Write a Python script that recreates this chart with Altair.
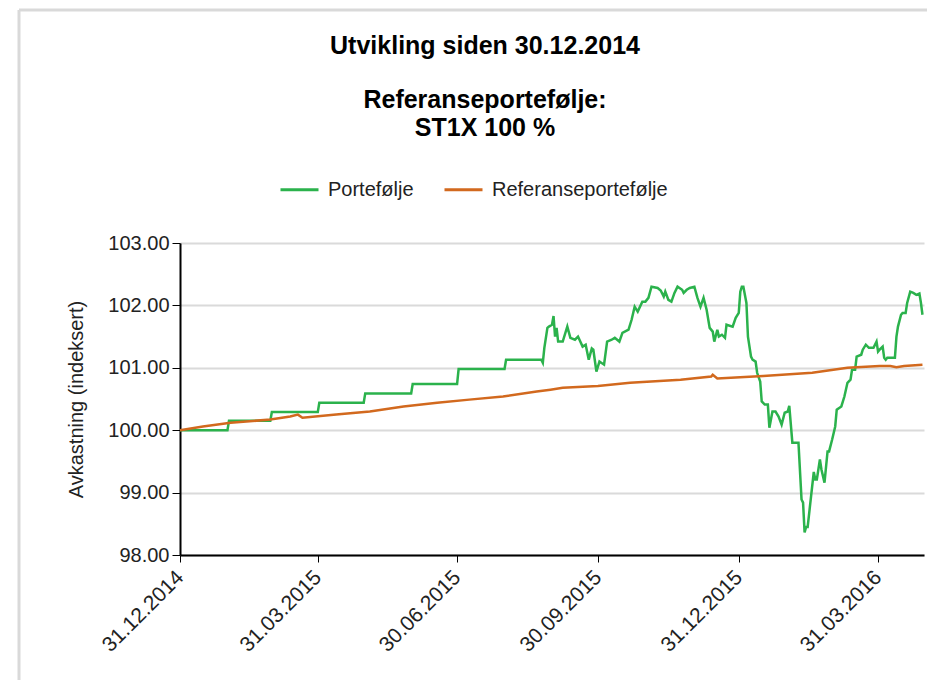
import altair as alt
import pandas as pd

# ---------------- data ----------------
base_date = "2014-12-31"
series_names = ["Portefølje", "Referanseportefølje"]
series_colors = ["#2bb24c", "#d2691e"]

# days after 31.12.2014 and index values (Portefølje)
green_days = [0, 31, 32, 59, 60, 90, 91, 120, 121, 151, 152, 181, 182, 212, 213, 236, 237, 238,
              240, 241, 243, 244, 245, 246, 247, 250, 253, 255, 258, 260, 263, 265, 267, 269,
              270, 272, 274, 277, 279, 282, 284, 287, 289, 293, 295, 297, 299, 302, 304, 306,
              308, 312, 314, 316, 317, 319, 321, 323, 325, 328, 329, 331, 333, 336, 338, 340,
              342, 344, 346, 348, 349, 351, 352, 354, 356, 357, 361, 363, 365, 366, 367, 368,
              370, 371, 373, 374, 376, 377, 379, 380, 382, 384, 385, 387, 389, 391, 393, 395,
              397, 398, 400, 402, 404, 406, 407, 408, 409, 410, 412, 414, 415, 416, 418, 419,
              421, 423, 424, 426, 428, 429, 432, 434, 436, 438, 439, 441, 442, 445, 446, 448,
              450, 453, 455, 456, 457, 459, 460, 461, 462, 467, 468, 469, 471, 472, 474, 475,
              477, 479, 481, 483, 484, 485]
green_vals = [100.00, 100.00, 100.15, 100.15, 100.29, 100.29, 100.44, 100.44, 100.59, 100.59,
              100.74, 100.74, 100.98, 100.98, 101.13, 101.13, 101.08, 101.32,
              101.64, 101.66, 101.69, 101.83, 101.50, 101.64, 101.42, 101.42, 101.66, 101.48,
              101.45, 101.50, 101.34, 101.37, 101.13, 101.31,
              101.29, 100.94, 101.10, 101.05, 101.42, 101.45, 101.48, 101.42, 101.56, 101.61,
              101.77, 101.98, 101.90, 102.06, 102.06, 102.12,
              102.30, 102.28, 102.24, 102.14, 102.22, 102.09, 102.06, 102.20, 102.30, 102.25,
              102.20, 102.25, 102.28, 102.30, 102.12, 101.98,
              102.12, 101.93, 101.64, 101.58, 101.42, 101.61, 101.50, 101.53, 101.48, 101.69,
              101.66, 101.80, 101.88, 102.22, 102.30, 102.30,
              102.04, 101.50, 101.18, 101.13, 101.10, 100.92, 100.78, 100.46, 100.41, 100.41,
              100.04, 100.30, 100.30, 100.22, 100.09, 100.28,
              100.30, 100.39, 99.80, 99.80, 99.80, 98.89, 98.84, 98.36, 98.45, 98.45, 98.89,
              99.33, 99.21, 99.21, 99.53, 99.37,
              99.16, 99.66, 99.66, 99.85, 100.06, 100.33, 100.38, 100.54, 100.76, 100.81,
              100.97, 100.97, 101.18, 101.21, 101.29, 101.37,
              101.32, 101.32, 101.42, 101.26, 101.29, 101.34, 101.16, 101.13, 101.16, 101.16,
              101.50, 101.66, 101.85, 101.88, 101.88, 102.04,
              102.22, 102.20, 102.17, 102.19, 102.04, 101.85]

# days after 31.12.2014 and index values (Referanseportefølje)
ref_days = [0, 15, 33, 59, 72, 77, 80, 102, 124, 146, 168, 189, 211, 233, 242, 250, 273, 294,
            327, 347, 348, 351, 381, 413, 436, 457, 464, 468, 473, 485]
ref_vals = [100.00, 100.06, 100.12, 100.17, 100.22, 100.25, 100.20, 100.25, 100.30, 100.38,
            100.44, 100.49, 100.54, 100.62, 100.65, 100.68, 100.71, 100.76,
            100.81, 100.86, 100.89, 100.83, 100.87, 100.92, 101.00, 101.03, 101.03, 101.01,
            101.03, 101.05]

x_tick_dates = ["2014-12-31", "2015-03-31", "2015-06-30", "2015-09-30", "2015-12-31", "2016-03-31"]
x_domain_dates = ["2014-12-31", "2016-04-30"]
y_ticks = [98, 99, 100, 101, 102, 103]
y_domain = [98, 103]

title_line = "Utvikling siden 30.12.2014"
subtitle_lines = ["Referanseportefølje:", "ST1X 100 %"]
y_title = "Avkastning (indeksert)"

# ---------------- build table ----------------
def build(days, vals, name):
    d = pd.Timestamp(base_date) + pd.to_timedelta(days, unit="D")
    return pd.DataFrame({
        "date": [x.strftime("%Y-%m-%d") for x in d],
        "value": vals,
        "serie": name,
        "i": list(range(len(days))),
    })

df = pd.concat([build(green_days, green_vals, series_names[0]),
                build(ref_days, ref_vals, series_names[1])], ignore_index=True)


def ms(s):
    return int(pd.Timestamp(s, tz="UTC").timestamp() * 1000)


FONT = "Liberation Sans"
TXT = "#222222"

lines = alt.Chart(df).mark_line(strokeWidth=2.5).encode(
    x=alt.X("date:T",
            scale=alt.Scale(type="utc", domain=[ms(s) for s in x_domain_dates], nice=False),
            axis=alt.Axis(values=[ms(s) for s in x_tick_dates],
                          labelExpr="utcFormat(datum.value, '%d.%m.%Y')",
                          labelAngle=-45, labelAlign="right", labelBaseline="middle",
                          labelFontSize=21, labelColor=TXT, labelPadding=12,
                          tickSize=7, tickColor="#000000", tickWidth=1,
                          domainColor="#000000", domainWidth=2,
                          grid=False, title=None)),
    y=alt.Y("value:Q",
            scale=alt.Scale(domain=y_domain, nice=False, zero=False),
            axis=alt.Axis(values=y_ticks, format=".2f",
                          labelFontSize=20, labelColor=TXT, labelPadding=3,
                          tickSize=8, tickColor="#000000", tickWidth=1,
                          domainColor="#000000", domainWidth=2,
                          grid=True, gridColor="#dadada", gridWidth=2,
                          title=y_title, titleFontSize=20, titleFontWeight="normal",
                          titleColor=TXT, titlePadding=21)),
    color=alt.Color("serie:N",
                    scale=alt.Scale(domain=series_names, range=series_colors),
                    legend=alt.Legend(title=None, orient="none", direction="horizontal",
                                      legendX=99, legendY=-74,
                                      symbolType="stroke", symbolSize=1444,
                                      symbolStrokeWidth=3, labelFontSize=20, labelLimit=0,
                                      labelColor=TXT, labelOffset=8, columnPadding=24)),
    order=alt.Order("i:Q"),
)

one = pd.DataFrame({"k": [0]})

frame_top = alt.Chart(one).mark_rule(color="#d9d9d9", strokeWidth=3).encode(
    x=alt.value(-161), x2=alt.value(760), y=alt.value(-233))
frame_left = alt.Chart(one).mark_rule(color="#d9d9d9", strokeWidth=3).encode(
    x=alt.value(-161), y=alt.value(-233), y2=alt.value(460))

t1 = alt.Chart(one).mark_text(text=title_line, fontSize=25, fontWeight="bold", font=FONT,
                              color="#000000", align="center", baseline="middle").encode(
    x=alt.value(305), y=alt.value(-197))
t2 = alt.Chart(one).mark_text(text=subtitle_lines[0], fontSize=25, fontWeight="bold", font=FONT,
                              color="#000000", align="center", baseline="middle").encode(
    x=alt.value(305), y=alt.value(-143))
t3 = alt.Chart(one).mark_text(text=subtitle_lines[1], fontSize=25, fontWeight="bold", font=FONT,
                              color="#000000", align="center", baseline="middle").encode(
    x=alt.value(305), y=alt.value(-115))

chart = alt.layer(frame_top, frame_left, t1, t2, t3, lines).properties(
    width=744, height=312,
    autosize=alt.AutoSizeParams(type="none"),
    padding={"left": 172, "top": 235, "right": 3, "bottom": 125},
).configure(font=FONT).configure_view(strokeWidth=0)

chart.save("out.html", embed_options={"renderer": "svg", "actions": False})
